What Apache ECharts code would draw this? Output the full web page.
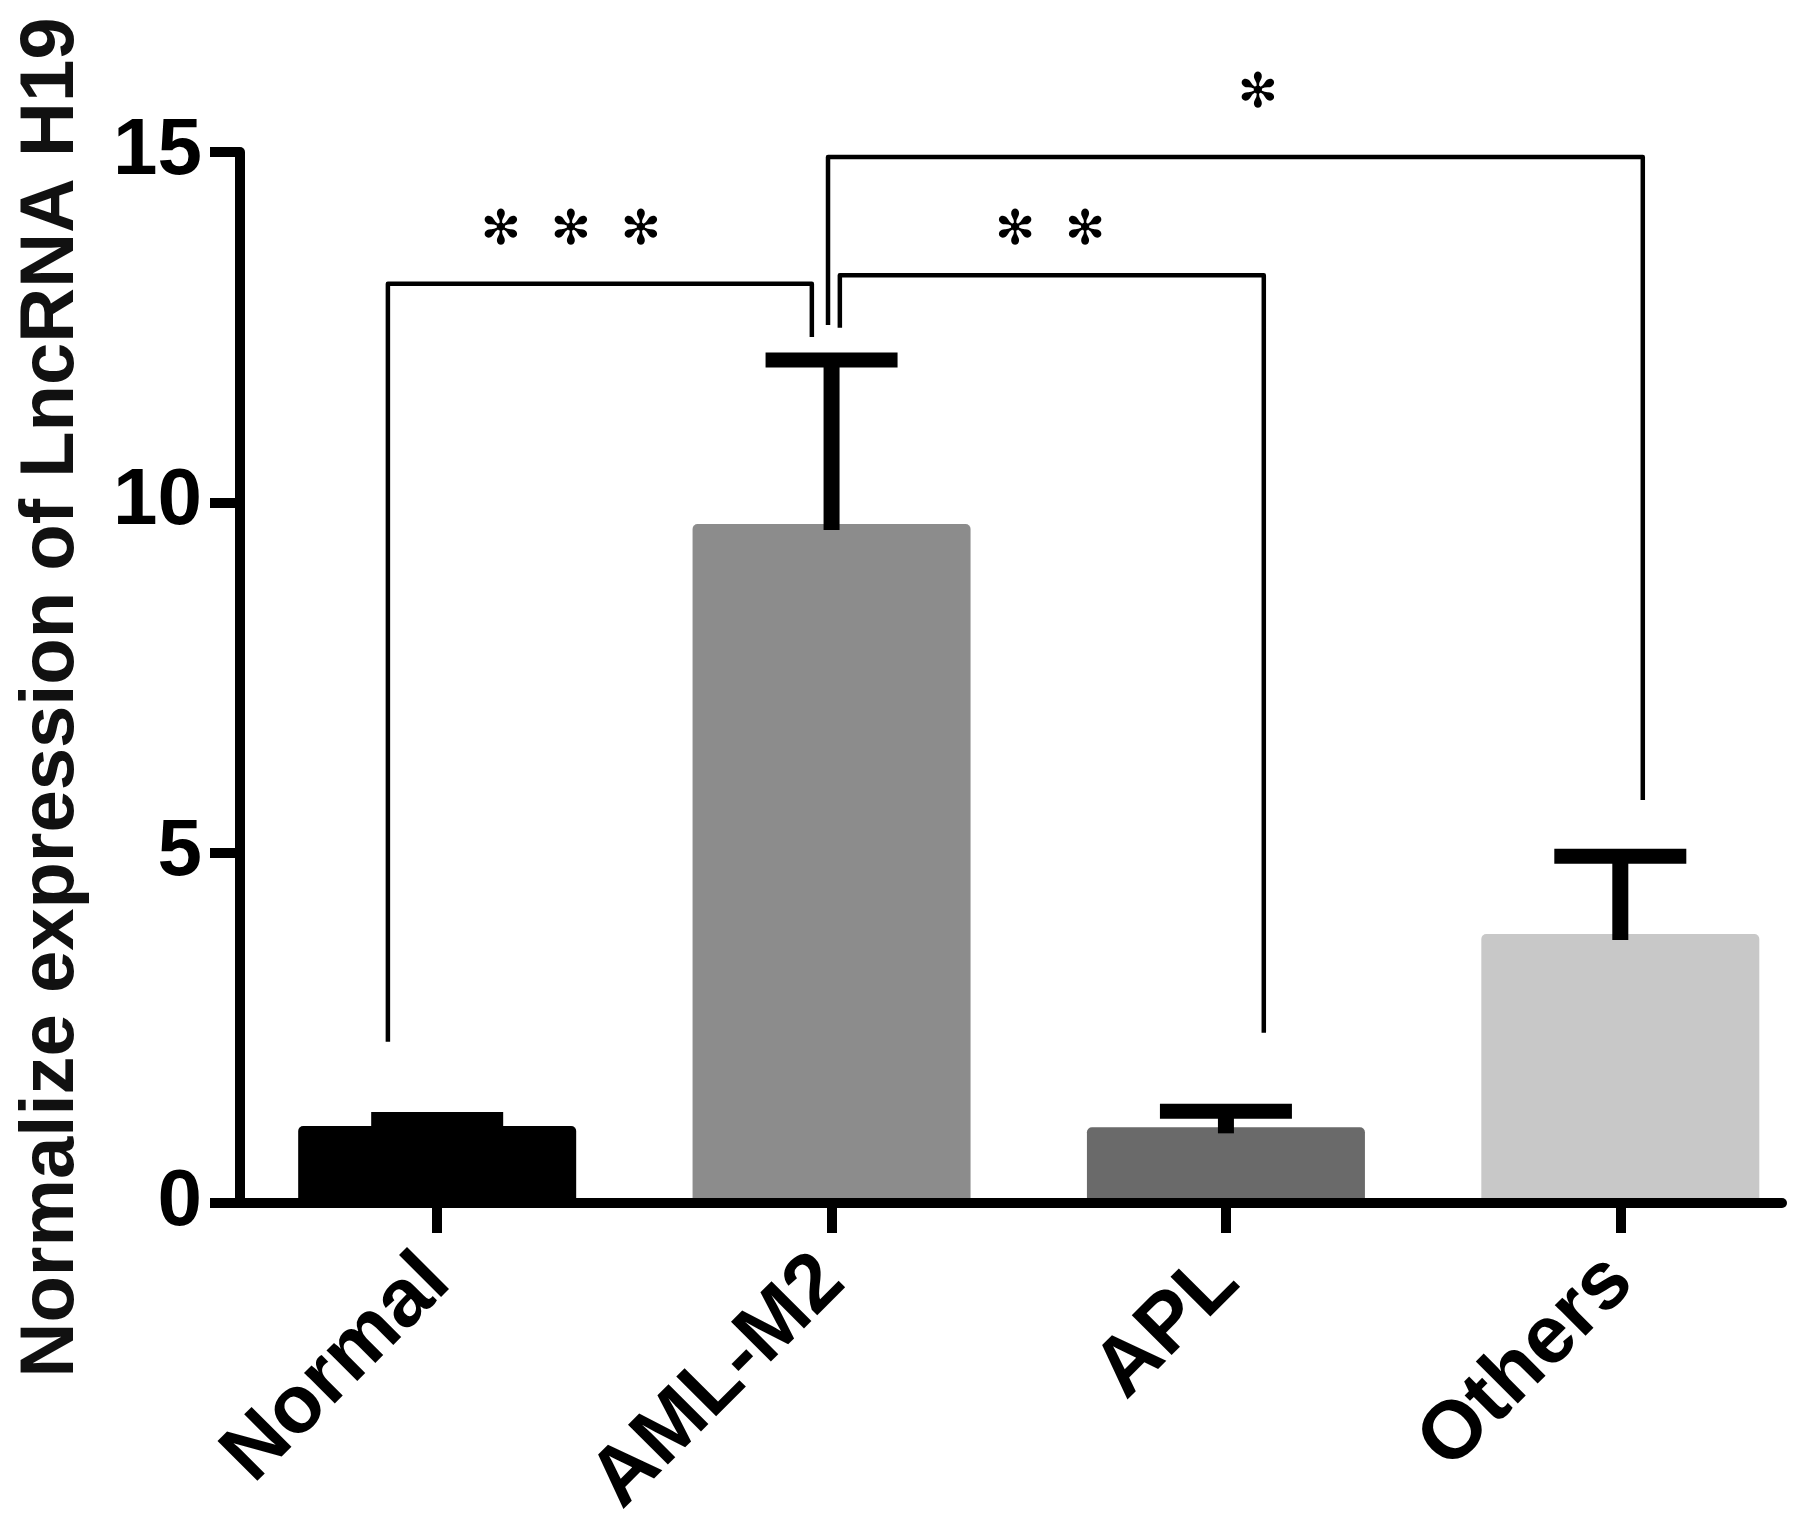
<!DOCTYPE html>
<html>
<head>
<meta charset="utf-8">
<script src="https://cdn.jsdelivr.net/npm/echarts@6/dist/echarts.min.js"></script>
<style>
html,body{margin:0;padding:0;background:#fff;}
#chart{width:1795px;height:1528px;}
</style>
</head>
<body>
<div id="chart"></div>
<script>
// ---- data ----
const categories = ['Normal', 'AML-M2', 'APL', 'Others'];
const categoryPositions = [0, 1, 2, 3];
const meanValues = [1.10, 9.69, 1.08, 3.84];
const errorValues = [0.09, 2.34, 0.23, 1.11];
const barColors = ['#000000', '#8c8c8c', '#6a6a6a', '#c8c8c8'];
const yTicks = [0, 5, 10, 15];
const yAxisTitle = 'Normalize expression of LncRNA H19';
// significance brackets: [xLeft, yLeftEnd, yTop, xRight, yRightEnd]
const brackets = [
  [-0.125, 2.30, 13.12, 0.950, 12.36],
  [1.021, 12.49, 13.24, 2.096, 2.43],
  [0.991, 12.53, 14.93, 3.057, 5.75]
];
// significance marks: [x, y, number of stars]
const starMarks = [
  [0.339, 13.86, 3],
  [1.554, 13.86, 2],
  [2.081, 15.82, 1]
];

const chart = echarts.init(document.getElementById('chart'), null, {renderer: 'canvas'});

const FONT = '"Liberation Sans", Arial, Helvetica, sans-serif';

const barData = categoryPositions.map((x, i) => ({
  value: [x, meanValues[i]],
  itemStyle: {color: barColors[i], borderRadius: [5, 5, 0, 0]}
}));
const errData = categoryPositions.map((x, i) => [x, meanValues[i], errorValues[i]]);

const option = {
  backgroundColor: '#ffffff',
  animation: false,
  grid: {left: 240, right: 13, top: 152, bottom: 325, containLabel: false, outerBoundsMode: 'none'},
  xAxis: {
    type: 'value',
    min: -0.5,
    max: 3.41,
    z: 10,
    splitLine: {show: false},
    axisLine: {show: true, onZero: false, lineStyle: {color: '#000', width: 10}},
    axisTick: {show: true, customValues: categoryPositions, length: 30, lineStyle: {color: '#000', width: 10}},
    axisLabel: {
      show: true,
      customValues: categoryPositions,
      formatter: v => categories[Math.round(v)],
      rotate: 45,
      margin: 66,
      color: '#000',
      fontFamily: FONT,
      fontWeight: 'bold',
      fontSize: 82,
      hideOverlap: false
    }
  },
  yAxis: {
    type: 'value',
    min: 0,
    max: 15,
    interval: 5,
    z: 10,
    splitLine: {show: false},
    axisLine: {show: true, onZero: false, lineStyle: {color: '#000', width: 10}},
    axisTick: {show: true, length: 30, lineStyle: {color: '#000', width: 10}},
    axisLabel: {
      color: '#000',
      fontFamily: FONT,
      fontWeight: 'bold',
      fontSize: 80,
      margin: 38,
      formatter: v => (yTicks.indexOf(v) >= 0 ? String(v) : '')
    },
    name: yAxisTitle,
    nameLocation: 'middle',
    nameGap: 150,
    nameTextStyle: {
      color: '#111',
      fontFamily: FONT,
      fontWeight: 'bold',
      fontSize: 76,
      padding: [0, 40, 0, 0]
    }
  },
  series: [
    {
      type: 'bar',
      data: barData,
      barWidth: 278,
      z: 2
    },
    {
      type: 'custom',
      z: 3,
      clip: false,
      data: errData,
      renderItem: function (params, api) {
        const x = api.value(0), m = api.value(1), e = api.value(2);
        const pm = api.coord([x, m]);
        const pt = api.coord([x, m + e]);
        return {
          type: 'group',
          children: [
            {type: 'rect', shape: {x: pt[0] - 8, y: pt[1], width: 16, height: pm[1] - pt[1] + 6}, style: {fill: '#000'}},
            {type: 'rect', shape: {x: pt[0] - 66, y: pt[1] - 7.5, width: 132, height: 15}, style: {fill: '#000'}}
          ]
        };
      }
    },
    {
      type: 'custom',
      z: 4,
      clip: false,
      data: brackets,
      renderItem: function (params, api) {
        const xl = api.value(0), yl = api.value(1), yt = api.value(2), xr = api.value(3), yr = api.value(4);
        const pts = [api.coord([xl, yl]), api.coord([xl, yt]), api.coord([xr, yt]), api.coord([xr, yr])];
        return {
          type: 'polyline',
          shape: {points: pts},
          style: {stroke: '#000', lineWidth: 4.5, fill: null, lineJoin: 'round', lineCap: 'butt'}
        };
      }
    },
    {
      type: 'custom',
      z: 5,
      clip: false,
      data: starMarks,
      renderItem: function (params, api) {
        const c = api.coord([api.value(0), api.value(1)]);
        const n = api.value(2);
        const kids = [];
        for (let i = 0; i < n; i++) {
          kids.push({
            type: 'text',
            style: {
              text: '✻',
              x: c[0] + (i - (n - 1) / 2) * 70,
              y: c[1],
              align: 'center',
              verticalAlign: 'middle',
              fontSize: 48,
              fontFamily: '"DejaVu Sans", "Noto Sans CJK SC", sans-serif',
              fill: '#000'
            }
          });
        }
        return {type: 'group', children: kids};
      }
    }
  ]
};
chart.setOption(option);
</script>
</body>
</html>
